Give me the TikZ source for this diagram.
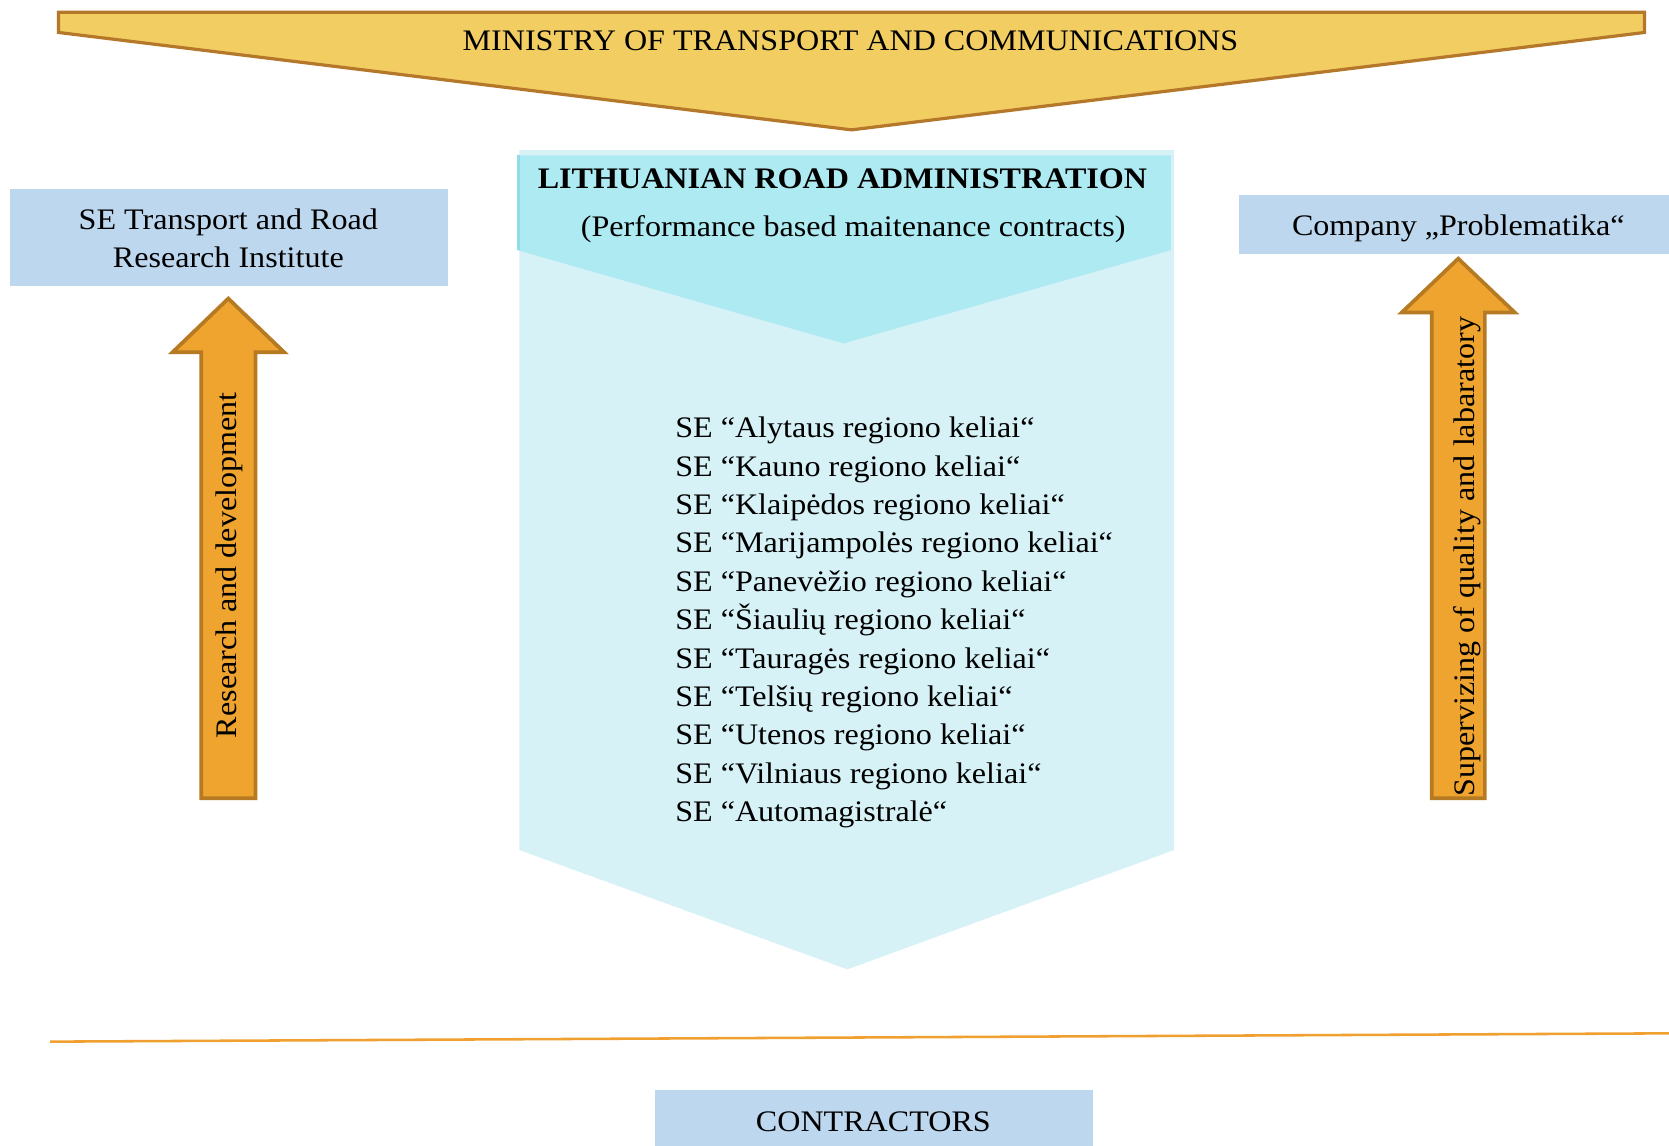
\documentclass[tikz,border=0pt]{standalone}
\usepackage{fontspec}
\newfontfamily\tnr{Liberation Serif}[FakeStretch=1.077]
\definecolor{mingold}{HTML}{F2CD62}
\definecolor{minedge}{HTML}{B5772A}
\definecolor{boxblue}{HTML}{BDD7EE}
\definecolor{cyanhead}{HTML}{AEEAF2}
\definecolor{cyanbody}{HTML}{D6F2F7}
\definecolor{cyanedge}{HTML}{8EDDE9}
\definecolor{arrowfill}{HTML}{EFA430}
\definecolor{arrowedge}{HTML}{B57A22}
\definecolor{lineorange}{HTML}{F0A030}
\begin{document}
\begin{tikzpicture}[x=1pt,y=-1pt,
  txt/.style={inner sep=0pt, font=\tnr\fontsize{28}{34}\selectfont},
  boldtxt/.style={inner sep=0pt, font=\tnr\bfseries\fontsize{28}{34}\selectfont},
  vtxt/.style={inner sep=0pt, rotate=90, anchor=base, font=\tnr\fontsize{28}{34}\selectfont},
  bluebox/.style={fill=boxblue, draw=none, inner sep=0pt, anchor=north west},
  blockarrow/.style={fill=arrowfill, draw=arrowedge, line width=3.5pt, line join=miter},
  orgline/.style={draw=lineorange, line width=2.4pt},
]
\useasboundingbox (0,0) rectangle (1568,1076);
\fill[white] (0,0) rectangle (1568,1076);

% Ministry banner
\draw[fill=mingold, draw=minedge, line width=3pt, line join=miter]
  (55,11.5) -- (1545,11.5) -- (1545,30.5) -- (800,122) -- (55,30.5) -- cycle;
\node[txt, anchor=base] (ministry) at (799,47.6) {MINISTRY OF TRANSPORT AND COMMUNICATIONS};

% LRA chevrons
\fill[cyanbody] (488,141) -- (1103,141) -- (1103,798.6) -- (796,910.7) -- (488,798.6) -- cycle;
\fill[cyanhead] (486,146) -- (1100,146) -- (1100,235) -- (792.5,322.6) -- (486,235) -- cycle;
\draw[cyanedge, line width=2.5pt] (487.2,146) -- (487.2,235);
\node[boldtxt, anchor=base] (lra) at (791.5,177) {LITHUANIAN ROAD ADMINISTRATION};
\node[txt, anchor=base] (pbmc) at (801.5,222) {(Performance based maitenance contracts)};

\foreach \t [count=\i] in {%
  SE “Alytaus regiono keliai“,
  SE “Kauno regiono keliai“,
  SE “Klaipėdos regiono keliai“,
  SE “Marijampolės regiono keliai“,
  SE “Panevėžio regiono keliai“,
  SE “Šiaulių regiono keliai“,
  SE “Tauragės regiono keliai“,
  SE “Telšių regiono keliai“,
  SE “Utenos regiono keliai“,
  SE “Vilniaus regiono keliai“,
  SE “Automagistralė“}
  \node[txt, anchor=base west] (se\i) at (634.2,{411.2+36.08*(\i-1)}) {\t};

% Left box and arrow
\node[bluebox, minimum width=411.2pt, minimum height=90.8pt] (rribox) at (9.4,177.6) {};
\node[txt, anchor=base] (rri1) at (214.5,216) {SE Transport and Road};
\node[txt, anchor=base] (rri2) at (214.5,251.2) {Research Institute};
\draw[blockarrow] (189,750) -- (189,331) -- (162,331) -- (214.5,280.5) -- (267,331) -- (240,331) -- (240,750) -- cycle;
\node[vtxt] (rd) at (222.4,531) {Research and development};

% Right box and arrow
\node[bluebox, minimum width=404pt, minimum height=54.8pt] (probox) at (1164,183.2) {};
\node[txt, anchor=base] (pro) at (1370,221.7) {Company „Problematika“};
\draw[blockarrow] (1345,750) -- (1345,293.5) -- (1317,293.5) -- (1370,243) -- (1423,293.5) -- (1395,293.5) -- (1395,750) -- cycle;
\node[vtxt] (sq) at (1385,523) {Supervizing of quality and labaratory};

% Separator line
\coordinate (lineL) at (47,978.6);
\coordinate (lineR) at (1568,970.8);
\draw[orgline] (lineL) -- (lineR);

% Contractors
\node[bluebox, minimum width=412pt, minimum height=60pt] (conbox) at (615,1024) {};
\node[txt, anchor=base] (contractors) at (820.5,1063.2) {CONTRACTORS};
\end{tikzpicture}
\end{document}
